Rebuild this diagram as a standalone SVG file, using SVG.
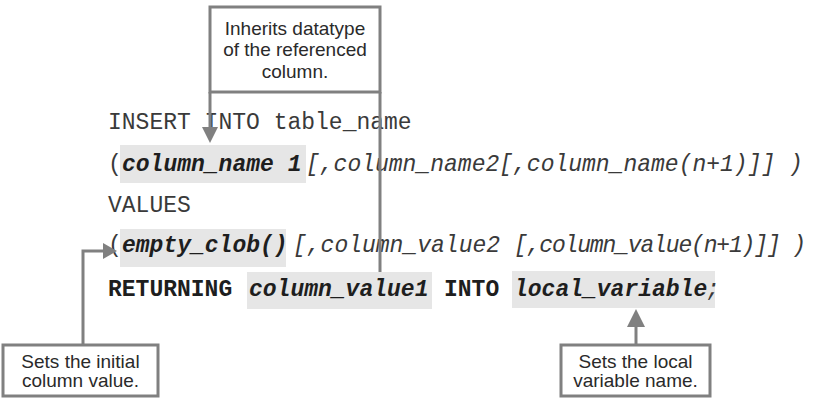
<svg xmlns="http://www.w3.org/2000/svg" width="836" height="398" viewBox="0 0 836 398">
<style>
.code{font-family:"Liberation Mono","Courier New",monospace;font-size:23px;fill:#3a3a3a}
.b{font-weight:bold;fill:#1e1e1e}
.i{font-style:italic}
.hl{fill:#e6e6e6}
.box{fill:#fff;stroke:#808080;stroke-width:3}
.lbl{font-family:"Liberation Sans",Arial,sans-serif;font-size:19px;fill:#2a2a2a;text-anchor:middle}
.ln{fill:none;stroke:#808080;stroke-width:3}
.ah{fill:#808080}
</style>
<g id="highlights">
<rect class="hl" x="120" y="145" width="186" height="38"/>
<rect class="hl" x="120" y="229" width="166" height="38"/>
<rect class="hl" x="247" y="272" width="185" height="37"/>
<rect class="hl" x="512" y="271" width="203" height="37"/>
</g>
<g id="code">
<text class="code" x="108" y="129">INSERT INTO table_name</text>
<text class="code" x="108" y="171">(</text>
<text class="code b i" x="122" y="171">column_name 1</text>
<text class="code i" x="306" y="171">[,column_name2[,column_name(n+1)]] )</text>
<text class="code" x="108" y="212">VALUES</text>
<text class="code" x="108" y="252">(</text>
<text class="code b i" x="122" y="252">empty_clob()</text>
<text class="code i" x="293" y="252">[,column_value2</text>
<text class="code i" x="514" y="252" textLength="292" lengthAdjust="spacing">[,column_value(n+1)]] )</text>
<text class="code b" x="108" y="296">RETURNING</text>
<text class="code b i" x="249" y="296">column_value1</text>
<text class="code b" x="444" y="296">INTO</text>
<text class="code b i" x="514" y="296">local_variable</text>
<text class="code i" x="706" y="296">;</text>
</g>
<g id="connectors">
<polyline class="ln" points="210,92 210,128"/>
<polygon class="ah" points="202,127 218,127 210,143"/>
<polyline class="ln" points="380,92 380,272"/>
<polyline class="ln" points="83,345 83,251 104,251"/>
<polygon class="ah" points="103,243 117,251 103,259"/>
<polyline class="ln" points="636,345 636,325"/>
<polygon class="ah" points="627,327 645,327 636,309"/>
</g>
<g id="node-top">
<rect class="box" x="210" y="7" width="170" height="85"/>
<text class="lbl" x="295" y="34.5">Inherits datatype</text>
<text class="lbl" x="295" y="56">of the referenced</text>
<text class="lbl" x="295" y="77.5">column.</text>
</g>
<g id="node-left">
<rect class="box" x="3" y="345" width="155" height="51"/>
<text class="lbl" x="80.5" y="368">Sets the initial</text>
<text class="lbl" x="80.5" y="387">column value.</text>
</g>
<g id="node-right">
<rect class="box" x="561" y="345" width="149" height="51"/>
<text class="lbl" x="635.5" y="368">Sets the local</text>
<text class="lbl" x="635.5" y="387">variable name.</text>
</g>
</svg>
